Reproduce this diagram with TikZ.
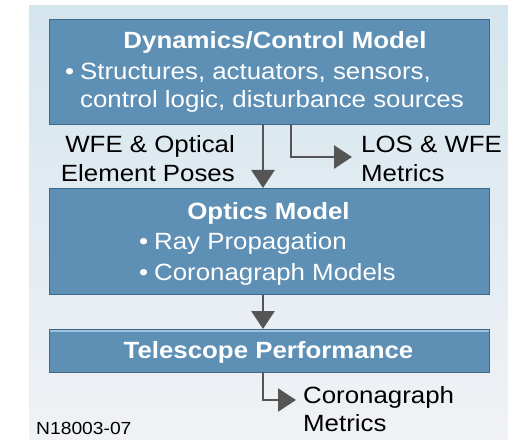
\documentclass[tikz,border=0pt]{standalone}
\usepackage{fontspec}
\setmainfont{Liberation Sans}[FakeStretch=1.1]
\usetikzlibrary{arrows.meta}
\definecolor{boxfill}{HTML}{5E8FB5}
\definecolor{boxedge}{HTML}{3F6989}
\definecolor{boxhi}{HTML}{9CC3E0}
\definecolor{panelTop}{HTML}{D5E5EE}
\definecolor{panelBot}{HTML}{F0F2F5}
\definecolor{flow}{HTML}{555555}
\tikzset{
  block/.style={draw=boxedge, line width=1.4bp, fill=boxfill, inner sep=0pt,
    minimum width=440bp, anchor=north west},
  intext/.style={text=white, inner sep=0pt, font=\fontsize{23.5bp}{28bp}\selectfont},
  intitle/.style={intext, font=\fontsize{23.5bp}{28bp}\selectfont\bfseries},
  outtext/.style={text=black, inner sep=0pt, font=\fontsize{23.5bp}{28bp}\selectfont},
  flowline/.style={draw=flow, line width=2.6bp,
    -{Triangle[length=18bp,width=23bp]}},
}
\begin{document}
\begin{tikzpicture}[x=1bp,y=-1bp]
\useasboundingbox (0,0) rectangle (514,440);
% background panel
\shade[top color=panelTop, bottom color=panelBot] (29,6) rectangle (508,440);

% blocks
\node[block, minimum height=105bp] (dyn) at (49,19) {};
\node[block, minimum height=106bp] (opt) at (49,188) {};
\node[block, minimum height=43bp] (tel) at (49,329) {};
\draw[boxhi, line width=2bp] ([xshift=1bp,yshift=-1.8bp]tel.north west) -- ([xshift=-1bp,yshift=-1.8bp]tel.north east);

% block texts
\node[intitle, anchor=base] (dynT) at (275,49) {Dynamics/Control Model};
\node[intext, anchor=base west] (dynB) at (65,80) {\textbullet};
\node[intext, anchor=base west] (dynL1) at (80,80) {Structures, actuators, sensors,};
\node[intext, anchor=base west] (dynL2) at (80,108) {control logic, disturbance sources};

\node[intitle, anchor=base] (optT) at (268.5,220) {Optics Model};
\node[intext, anchor=base west] (optB1) at (139,250) {\textbullet};
\node[intext, anchor=base west] (optL1) at (154,250) {Ray Propagation};
\node[intext, anchor=base west] (optB2) at (139,280) {\textbullet};
\node[intext, anchor=base west] (optL2) at (154,280) {Coronagraph Models};

\node[intitle, anchor=base] (telT) at (268.5,358) {Telescope Performance};

% connector anchors
\coordinate (mainx) at (263,0);
\coordinate (losbend) at (291,157);
\coordinate (lostip) at (352,157);
\coordinate (corotip) at (296,400);

\draw[flowline] (mainx |- dyn.south) -- (mainx |- opt.north);
\draw[flowline] (losbend |- dyn.south) |- (lostip);
\draw[flowline] (mainx |- opt.south) -- (mainx |- tel.north);
\draw[flowline] (mainx |- tel.south) |- (corotip);

% outside labels
\node[outtext, anchor=base east] (wfe1) at (235,153) {WFE \& Optical};
\node[outtext, anchor=base east] (wfe2) at (235,182) {Element Poses};
\node[outtext, anchor=base west] (los1) at (361,153) {LOS \& WFE};
\node[outtext, anchor=base west] (los2) at (361,182) {Metrics};
\node[outtext, anchor=base west] (coro1) at (303,403) {Coronagraph};
\node[outtext, anchor=base west] (coro2) at (303,431) {Metrics};
\node[outtext, anchor=base west, font=\fontsize{17.5bp}{20bp}\selectfont] (tag) at (36,434) {N18003-07};
\end{tikzpicture}
\end{document}
